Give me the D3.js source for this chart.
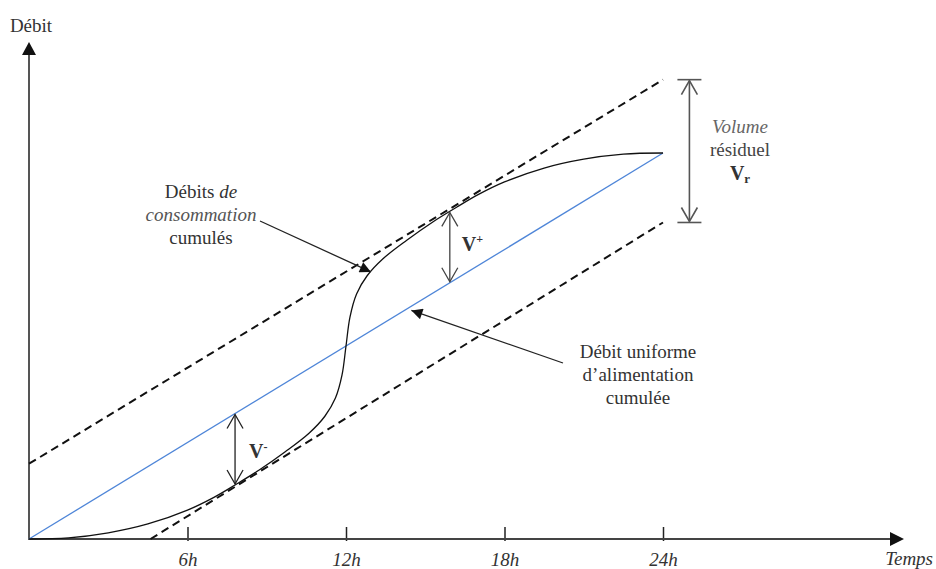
<!DOCTYPE html>
<html><head><meta charset="utf-8">
<script src="https://cdn.jsdelivr.net/npm/d3@7"></script>
<style>
html,body{margin:0;padding:0;background:#fff;}
svg{display:block;}
svg text{font-family:'Liberation Serif','Times New Roman',serif;}
</style></head>
<body>
<svg id="chart" width="936" height="569"></svg>
<script>
// ---------- data ----------
const tickHours = [6, 12, 18, 24];
const tickLabels = ["6h", "12h", "18h", "24h"];
// Uniform supply (cumulative)
const supplyTime = [0, 24];
const supplyValue = [0, 100];
// Cumulative consumption (S-curve)
const consTime  = [0, 1.5, 3.0, 4.5, 6.0, 7.0, 7.8, 8.7, 9.7, 10.6, 11.2, 11.6, 11.85, 12.0, 12.15, 12.4, 12.8, 13.4, 14.3, 15.3, 16.2, 17.0, 18.0, 19.5, 21.0, 22.5, 24];
const consValue = [0, 0.3, 1.6, 3.9, 7.5, 10.8, 14.0, 17.8, 22.6, 27.4, 31.8, 36.5, 42.5, 50.0, 57.5, 63.5, 68.2, 72.6, 77.4, 82.2, 86.0, 89.2, 92.5, 96.1, 98.4, 99.7, 100];
// Envelope dashed lines
const upperTime = [0, 24];
const upperValue = [19.5, 119];
const lowerTime = [4.6, 24];
const lowerValue = [0, 82];
// annotation anchors (hours)
const vMinusHour = 7.8;
const vPlusHour = 15.93;
const vrHour = 25;

// ---------- scales ----------
const svg = d3.select("#chart");
const x = d3.scaleLinear().domain([0, 24]).range([29, 663]);
const y = d3.scaleLinear().domain([0, 100]).range([539, 153]);

const FONT = "'Liberation Serif', 'Times New Roman', serif";
const xAxisEnd = 904, yAxisTop = 42;
const ink = "#333";
const fs = 19;

// defs: arrow markers
const defs = svg.append("defs");
defs.append("marker").attr("id","tri").attr("viewBox","0 0 10 10").attr("refX",10).attr("refY",5)
  .attr("markerWidth",13).attr("markerHeight",11).attr("markerUnits","userSpaceOnUse").attr("orient","auto")
  .append("path").attr("d","M0,0 L10,5 L0,10 Z").attr("fill","#111");

function txt(px, py, s, opts={}){
  return svg.append("text").attr("x",px).attr("y",py).style("font-family",FONT)
    .attr("font-size",opts.size||fs).attr("fill",opts.fill||ink)
    .attr("text-anchor",opts.anchor||"middle")
    .attr("font-style",opts.italic?"italic":"normal")
    .attr("font-weight",opts.bold?"bold":"normal")
    .text(s);
}

// ---------- axes ----------
const xAxis = d3.axisBottom(x).tickValues(tickHours).tickFormat((d,i)=>tickLabels[i]).tickSize(0);
const gx = svg.append("g").attr("transform", `translate(0,${y(0)})`).call(xAxis);
gx.attr("font-family",null).style("font-family",FONT);
gx.select(".domain").remove();
gx.selectAll(".tick text").attr("font-style","italic").attr("font-size",fs).attr("fill",ink)
  .style("font-family",FONT).attr("dy",null).attr("y",27);
gx.selectAll(".tick").append("line").attr("y1",-12).attr("y2",2).attr("stroke","#222").attr("stroke-width",1.5);

svg.append("line").attr("x1",x(0)).attr("x2",xAxisEnd-12).attr("y1",y(0)).attr("y2",y(0))
  .attr("stroke","#444").attr("stroke-width",2);
svg.append("path").attr("d",`M${xAxisEnd},${y(0)} L${xAxisEnd-14},${y(0)-7} L${xAxisEnd-14},${y(0)+7} Z`).attr("fill","#111");
svg.append("line").attr("x1",x(0)).attr("x2",x(0)).attr("y1",y(0)+1).attr("y2",yAxisTop+12)
  .attr("stroke","#555").attr("stroke-width",2);
svg.append("path").attr("d",`M${x(0)},${yAxisTop} L${x(0)-7},${yAxisTop+13} L${x(0)+7},${yAxisTop+13} Z`).attr("fill","#111");

txt(x(0)+2, 32, "Débit");
txt(933, 565, "Temps", {anchor:"end", italic:true});

// ---------- lines ----------
const line = d3.line().x(d=>x(d[0])).y(d=>y(d[1]));
const zip = (a,b)=>a.map((v,i)=>[v,b[i]]);

svg.append("path").attr("d", line(zip(upperTime,upperValue))).attr("fill","none")
  .attr("stroke","#111").attr("stroke-width",2).attr("stroke-dasharray","8,5");
svg.append("path").attr("d", line(zip(lowerTime,lowerValue))).attr("fill","none")
  .attr("stroke","#111").attr("stroke-width",2).attr("stroke-dasharray","8,5");
svg.append("path").attr("d", line(zip(supplyTime,supplyValue))).attr("fill","none")
  .attr("stroke","#4f86d8").attr("stroke-width",1.3);
svg.append("path").attr("d", d3.line().x(d=>x(d[0])).y(d=>y(d[1])).curve(d3.curveCatmullRom.alpha(0.5))(zip(consTime,consValue))).attr("fill","none")
  .attr("stroke","#111").attr("stroke-width",1.3);

// ---------- helpers ----------
const supplyAt = h => d3.scaleLinear().domain(supplyTime).range(supplyValue)(h);
const consAt = h => d3.scaleLinear().domain(consTime).range(consValue)(h);
function dblArrow(px, y1, y2, color, width){
  const g = svg.append("g").attr("stroke",color).attr("stroke-width",width).attr("fill","none");
  g.append("line").attr("x1",px).attr("x2",px).attr("y1",y1).attr("y2",y2);
  g.append("path").attr("d",`M${px-8},${y1+14} L${px},${y1} L${px+8},${y1+14}`);
  g.append("path").attr("d",`M${px-8},${y2-14} L${px},${y2} L${px+8},${y2-14}`);
  return g;
}

// V- arrow
{
  const px = x(vMinusHour);
  dblArrow(px, y(supplyAt(vMinusHour))+1, y(consAt(vMinusHour))-1, "#222", 1.3);
  const t = txt(px+14, y(consAt(vMinusHour))-27, "", {anchor:"start", bold:true, size:fs+1});
  t.append("tspan").text("V");
  t.append("tspan").attr("dy",-7).attr("font-size",12).text("-");
}
// V+ arrow
{
  const px = x(vPlusHour);
  dblArrow(px, y(consAt(vPlusHour))+1, y(supplyAt(vPlusHour))-1, "#444", 1.3);
  const t = txt(px+12, y(consAt(vPlusHour))+40, "", {anchor:"start", bold:true, size:fs+1});
  t.append("tspan").text("V");
  t.append("tspan").attr("dy",-8).attr("font-size",12).text("+");
}
// Vr arrow
{
  const px = x(vrHour);
  const yt = y(upperValue[1]), yb = y(lowerValue[1]);
  const g = dblArrow(px, yt+1, yb-1, "#555", 1.6);
  g.append("line").attr("x1",px-12).attr("x2",px+12).attr("y1",yt).attr("y2",yt);
  g.append("line").attr("x1",px-12).attr("x2",px+12).attr("y1",yb).attr("y2",yb);
  txt(740, 133, "Volume", {italic:true, fill:"#666"});
  txt(740, 156, "résiduel", {fill:"#444"});
  const t = txt(740, 180, "", {bold:true, size:fs+1});
  t.append("tspan").text("V");
  t.append("tspan").attr("dy",3).attr("font-size",13).text("r");
}

// Consumption label + arrow
{
  const tx = 201;
  const t1 = txt(tx, 198, "");
  t1.append("tspan").text("Débits ");
  t1.append("tspan").attr("font-style","italic").text("de");
  txt(tx, 221, "consommation", {italic:true, fill:"#555"});
  txt(tx, 244, "cumulés");
  svg.append("line").attr("x1",260).attr("y1",221).attr("x2",x(12.98)-1).attr("y2",y(69.2))
    .attr("stroke","#222").attr("stroke-width",1.3).attr("marker-end","url(#tri)");
}
// Supply label + arrow
{
  const tx = 638;
  txt(tx, 358, "Débit uniforme");
  txt(tx, 381, "d’alimentation");
  txt(tx, 404, "cumulée");
  const hx = 14.4;
  svg.append("line").attr("x1",563).attr("y1",363).attr("x2",x(hx)+2).attr("y2",y(supplyAt(hx))+3)
    .attr("stroke","#222").attr("stroke-width",1.3).attr("marker-end","url(#tri)");
}
</script>
</body></html>
